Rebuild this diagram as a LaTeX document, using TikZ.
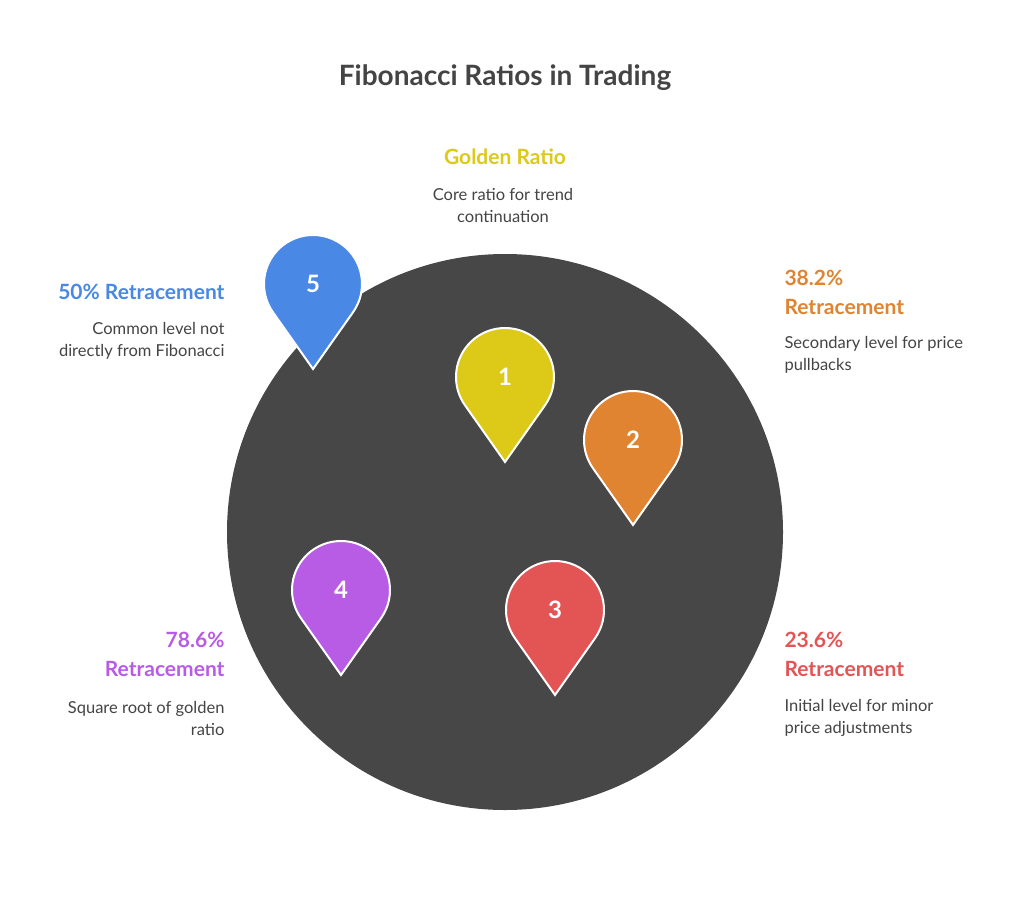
\documentclass[tikz,border=0pt]{standalone}
\usepackage{fontspec}
\setmainfont{Lato}
\usetikzlibrary{calc}
\definecolor{dark}{HTML}{474747}
\definecolor{txt}{HTML}{444444}
\definecolor{cy}{HTML}{DDC918}
\definecolor{co}{HTML}{E08431}
\definecolor{cr}{HTML}{E35555}
\definecolor{cp}{HTML}{B85CE5}
\definecolor{cb}{HTML}{4A88E5}
\tikzset{
 head/.style={font=\fontsize{21}{29}\selectfont\bfseries},
 body/.style={font=\fontsize{16.5}{22}\selectfont, text=txt},
 num/.style={font=\fontsize{24}{28}\selectfont\bfseries, text=white},
 pin/.style={fill=#1, draw=white, line width=2pt}
}
\newcommand{\mypin}[4]{% name, x, y, color
 \coordinate (#1c) at (#2,#3);
 \coordinate (#1t) at (#2,#3+85);
 \path[pin=#4] (#1t) -- ($(#1c)+(35.2:49)$) arc[start angle=35.2,end angle=-215.2,radius=49] -- cycle;
}
\begin{document}
\begin{tikzpicture}[x=1pt,y=-1pt]
\useasboundingbox[fill=white] (0,0) rectangle (1024,896);
\node[font=\fontsize{28}{32}\selectfont\bfseries, text=txt] (title) at (505,78) {Fibonacci Ratios in Trading};
\node[circle, fill=dark, minimum size=556pt, inner sep=0] (big) at (505,532) {};
\mypin{p1}{505}{377}{cy} \node[num] (n1) at (p1c) {1};
\mypin{p2}{633}{440}{co} \node[num] (n2) at (p2c) {2};
\mypin{p3}{555}{610}{cr} \node[num] (n3) at (p3c) {3};
\mypin{p4}{341}{590}{cp} \node[num] (n4) at (p4c) {4};
\mypin{p5}{313}{284}{cb} \node[num] (n5) at (p5c) {5};
\node[head, text=cy] (h1) at (505,157) {Golden Ratio};
\node[body, align=center] (b1) at (503,205) {Core ratio for trend\\continuation};
\node[head, text=cb, anchor=east] (h5) at (228,292) {50\% Retracement};
\node[body, align=right, anchor=east] (b5) at (228,341) {Common level not\\directly from Fibonacci};
\node[head, text=co, anchor=west, align=left] (h2) at (781,292) {38.2\%\\Retracement};
\node[body, anchor=west, align=left] (b2) at (781,355) {Secondary level for price\\pullbacks};
\node[head, text=cp, anchor=east, align=right] (h4) at (228,654) {78.6\%\\Retracement};
\node[body, anchor=east, align=right] (b4) at (228,718) {Square root of golden\\ratio};
\node[head, text=cr, anchor=west, align=left] (h3) at (781,654) {23.6\%\\Retracement};
\node[body, anchor=west, align=left] (b3) at (781,718) {Initial level for minor\\price adjustments};
\end{tikzpicture}
\end{document}
